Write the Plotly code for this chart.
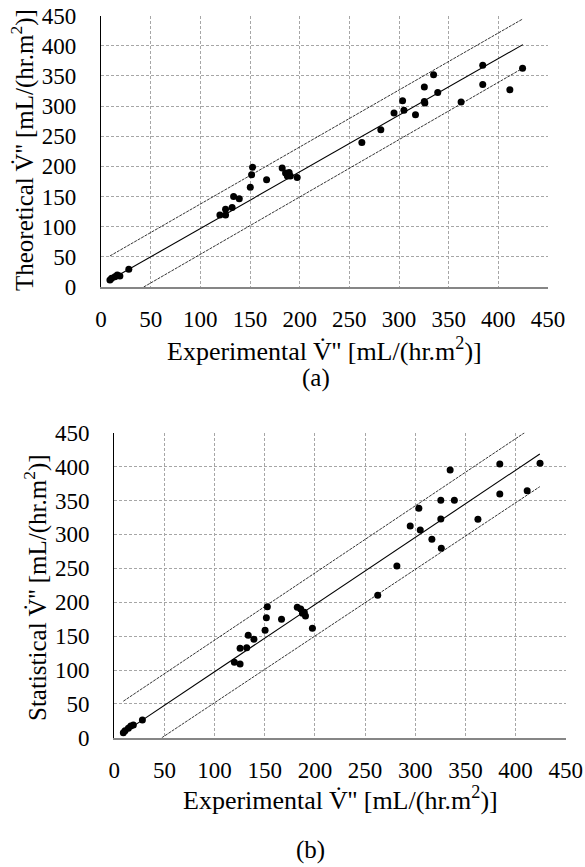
import plotly.graph_objects as go

# experimental values shared by both panels
experimental = [9, 10.7, 14, 16.4, 19, 28, 119.7, 125.4, 125.4, 132, 133.5, 139.2, 150.3, 151.6, 152.6,
                166.7, 182.4, 185.8, 187.6, 189.4, 190.6, 197.5, 262.6, 281.7, 295, 303.6, 305, 316.6,
                325.5, 325.5, 326, 334.8, 339, 362.5, 384.3, 384.3, 411.6, 424.4]
theoretical = [11.6, 14.4, 17, 19.9, 18.3, 29.4, 119.6, 129, 119.6, 131.7, 150, 146.2, 165.6, 186, 198.8,
               177.7, 197.2, 188.9, 184, 189.9, 184, 181.6, 239.7, 260.8, 288.5, 309, 293, 285.7,
               331.7, 307.8, 305, 352, 322.8, 306.8, 368, 336, 327, 363]
statistical = [7.5, 10.5, 14, 17.4, 18.9, 26.3, 111.4, 132, 108.9, 132.9, 151.4, 145.3, 158.6, 177.2, 193.4,
               175, 192.5, 190, 183.6, 185, 179.7, 161.5, 210.2, 253.4, 312.4, 338.5, 306.5, 292.8,
               350.3, 322.7, 279.5, 395, 350.3, 322.5, 404, 359.6, 364.5, 405]

# fit line and band end points (x, y)
fit_a_x, fit_a_y = [9, 424.7], [11.5, 402]
upper_a_x, upper_a_y = [9, 424.7], [51.5, 444.7]
lower_a_x, lower_a_y = [43, 424.7], [0, 363]

fit_b_x, fit_b_y = [9.7, 424.2], [8, 418.6]
upper_b_x, upper_b_y = [9, 409], [54, 450]
lower_b_x, lower_b_y = [47.3, 424.2], [0, 370.4]

ticks = [0, 50, 100, 150, 200, 250, 300, 350, 400, 450]

FONT = "Liberation Serif"
W, H = 585, 867

fig = go.Figure()


def add_panel(fig, xa, ya, y_vals, fit, upper, lower):
    for (lx, ly), w, dash in [(upper, 0.8, "3px,1px"), (lower, 0.8, "3px,1px"), (fit, 1.1, "solid")]:
        fig.add_trace(go.Scatter(x=lx, y=ly, mode="lines", line=dict(color="black", width=w, dash=dash),
                                 xaxis=xa, yaxis=ya, showlegend=False, hoverinfo="skip"))
    fig.add_trace(go.Scatter(x=experimental, y=y_vals, mode="markers",
                             marker=dict(color="black", size=7), xaxis=xa, yaxis=ya, showlegend=False))


add_panel(fig, "x", "y", theoretical, (fit_a_x, fit_a_y), (upper_a_x, upper_a_y), (lower_a_x, lower_a_y))
add_panel(fig, "x2", "y2", statistical, (fit_b_x, fit_b_y), (upper_b_x, upper_b_y), (lower_b_x, lower_b_y))

xcommon = dict(range=[0, 450], tickvals=ticks, showgrid=True, gridcolor="#a6a6a6", griddash="3px,2px",
               gridwidth=1, zeroline=False, showline=True, linecolor="#868686", linewidth=1.5,
               automargin=False, ticks="", ticklabelstandoff=11,
               tickfont=dict(family=FONT, size=23, color="black"))
ycommon = dict(range=[0, 450], tickvals=ticks, showgrid=True, gridcolor="#a6a6a6", griddash="3px,2px",
               gridwidth=1, zeroline=False, showline=True, linecolor="black", linewidth=1.2,
               automargin=False, ticks="", ticklabelstandoff=19,
               tickfont=dict(family=FONT, size=23, color="black"))

fig.update_layout(
    width=W, height=H, margin=dict(l=0, r=0, t=0, b=0, autoexpand=False),
    font=dict(family=FONT, color="black"),
    plot_bgcolor="white", paper_bgcolor="white",
    xaxis=dict(domain=[101 / W, 548 / W], anchor="y", **xcommon),
    yaxis=dict(domain=[1 - 287 / H, 1 - 15.7 / H], anchor="x", **ycommon),
    xaxis2=dict(domain=[114.3 / W, 565.7 / W], anchor="y2", **xcommon),
    yaxis2=dict(domain=[1 - 737.8 / H, 1 - 432.7 / H], anchor="x2", **ycommon),
)

vdot = "V\u0307''"
unit = " [mL/(hr.m<sup>2</sup>)]"
labels = [
    ("Experimental " + vdot + unit, 324.5, 349, 0, 26),
    ("(a)", 316, 378, 0, 25),
    ("Theoretical " + vdot + unit, 22, 150, -90, 25),
    ("Experimental " + vdot + unit, 340, 798, 0, 26),
    ("(b)", 310, 850, 0, 25),
    ("Statistical " + vdot + unit, 35, 588, -90, 25),
]
for text, px, py, ang, size in labels:
    fig.add_annotation(text=text, x=px / W, y=1 - py / H, xref="paper", yref="paper",
                       xanchor="center", yanchor="middle", showarrow=False, textangle=ang,
                       font=dict(family=FONT, size=size, color="black"))

fig.write_html("out.html", config={"displayModeBar": False},
               post_script="document.body.style.margin='0';")
